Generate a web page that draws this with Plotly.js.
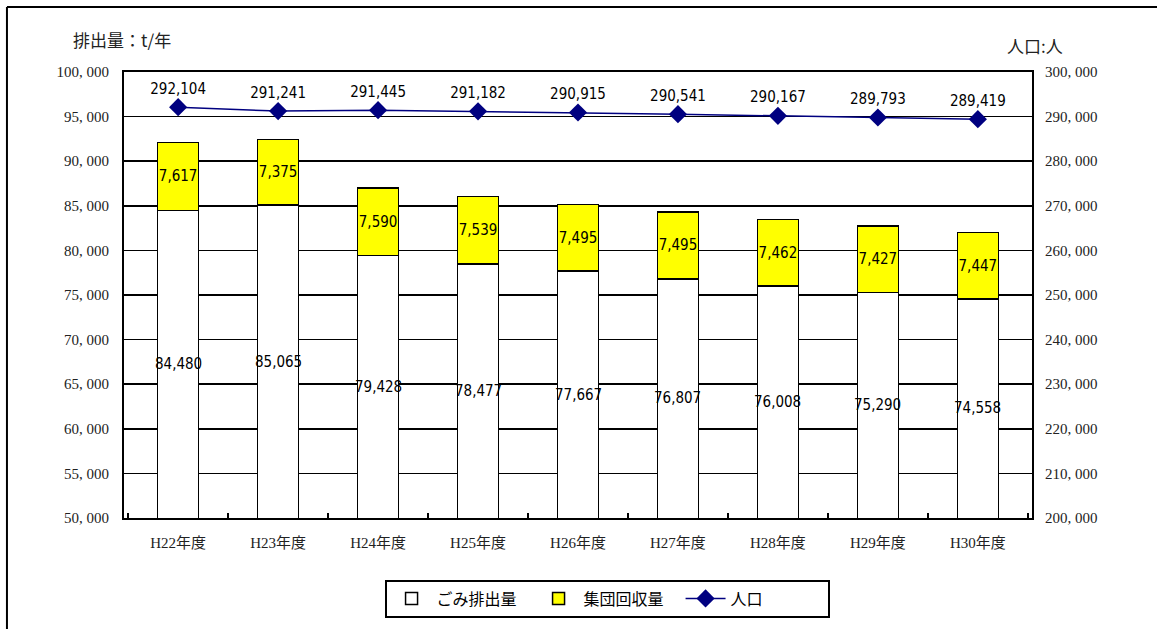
<!DOCTYPE html>
<html><head><meta charset="utf-8">
<script src="https://cdn.plot.ly/plotly-3.0.1.min.js"></script>
<style>body{margin:0;background:#fff}#c{width:1157px;height:629px}</style>
</head><body><div id="c"></div>
<script>
const categories = ["H22年度","H23年度","H24年度","H25年度","H26年度","H27年度","H28年度","H29年度","H30年度"];
const wasteValues = [84480, 85065, 79428, 78477, 77667, 76807, 76008, 75290, 74558];
const groupValues = [7617, 7375, 7590, 7539, 7495, 7495, 7462, 7427, 7447];
const population = [292104, 291241, 291445, 291182, 290915, 290541, 290167, 289793, 289419];
const leftTickVals = [50000,55000,60000,65000,70000,75000,80000,85000,90000,95000,100000];
const leftTickText = ["50, 000","55, 000","60, 000","65, 000","70, 000","75, 000","80, 000","85, 000","90, 000","95, 000","100, 000"];
const rightTickVals = [200000,210000,220000,230000,240000,250000,260000,270000,280000,290000,300000];
const rightTickText = ["200, 000","210, 000","220, 000","230, 000","240, 000","250, 000","260, 000","270, 000","280, 000","290, 000","300, 000"];
const leftRange = [50000, 100000];
const fmt = v => v.toLocaleString('en-US');

const labelFont = {family:'DejaVu Sans Condensed, Liberation Sans Narrow, Liberation Sans, sans-serif', size:15, color:'#000'};
const tickFont = {family:'Liberation Serif, DejaVu Serif, serif', size:15, color:'#222'};

const traces = [
 {type:'bar', name:'ごみ排出量', x:categories, y:wasteValues, textposition:'none',
  marker:{color:'#ffffff', line:{color:'#000', width:1.5}}, hoverinfo:'y'},
 {type:'bar', name:'集団回収量', x:categories, y:groupValues, text:groupValues.map(fmt),
  textposition:'inside', insidetextanchor:'middle', constraintext:'none', textangle:0, textfont:labelFont,
  marker:{color:'#ffff00', line:{color:'#000', width:1.5}}, hoverinfo:'y'},
 {type:'scatter', name:'人口', x:categories, y:population, yaxis:'y2', mode:'lines+markers+text',
  text:population.map(fmt), textposition:'top center', textfont:labelFont,
  line:{color:'#000080', width:1.5}, marker:{symbol:'diamond', size:14, color:'#000080'}}
];

// labels of the white bars, centred in the visible part of each bar
const wasteLabels = categories.map((c, i) => ({
  x:c, y:(leftRange[0] + wasteValues[i]) / 2, xref:'x', yref:'y', showarrow:false,
  text:fmt(wasteValues[i]), font:labelFont
}));

const layout = {
 width:1157, height:629,
 margin:{l:124, r:125, t:72, b:111},
 paper_bgcolor:'#fff', plot_bgcolor:'#fff',
 barmode:'stack', bargap:0.59,
 showlegend:true,
 legend:{orientation:'h', x:0.532, xanchor:'center', y:-0.138, yanchor:'top',
   bordercolor:'#000', borderwidth:2, bgcolor:'#fff', entrywidth:92,
   font:{family:'Noto Sans CJK JP, sans-serif', size:16, color:'#000'}, traceorder:'normal', itemwidth:40},
 xaxis:{type:'category', showline:true, linecolor:'#000', linewidth:2, mirror:true,
   ticks:'inside', tickson:'boundaries', ticklen:5, tickcolor:'#000', tickwidth:1.5,
   ticklabelstandoff:10,
   tickfont:{family:'Liberation Serif, Noto Sans CJK JP, serif', size:15, color:'#222'}, showgrid:false},
 yaxis:{range:leftRange, tickvals:leftTickVals, ticktext:leftTickText, showgrid:true,
   gridcolor:'#000', gridwidth:1.5, showline:true, linecolor:'#000', linewidth:2, mirror:true,
   ticks:'', tickfont:tickFont, ticklabelstandoff:10, zeroline:false},
 yaxis2:{overlaying:'y', side:'right', range:[200000,300000], tickvals:rightTickVals, ticktext:rightTickText,
   showgrid:false, ticks:'', tickfont:tickFont, ticklabelstandoff:12, zeroline:false, showline:false},
 annotations:[
  {xref:'paper', yref:'paper', x:-0.058, y:1.072, xanchor:'left', yanchor:'middle', showarrow:false,
   text:'排出量：t/年', font:{family:'Noto Sans CJK JP, sans-serif', size:17, color:'#222'}},
  {xref:'paper', yref:'paper', x:1.036, y:1.06, xanchor:'right', yanchor:'middle', showarrow:false,
   text:'人口:人', font:{family:'Noto Sans CJK JP, sans-serif', size:17, color:'#222'}}
 ].concat(wasteLabels),
 shapes:[
  {type:'line', xref:'paper', yref:'paper', x0:-0.1289, x1:1.2, y0:1.1457, y1:1.1457, line:{color:'#000', width:2}},
  {type:'line', xref:'paper', yref:'paper', x0:-0.1289, x1:-0.1289, y0:1.1457, y1:-0.3, line:{color:'#000', width:2}}
 ]
};
Plotly.newPlot('c', traces, layout, {displayModeBar:false, staticPlot:true});
</script></body></html>
